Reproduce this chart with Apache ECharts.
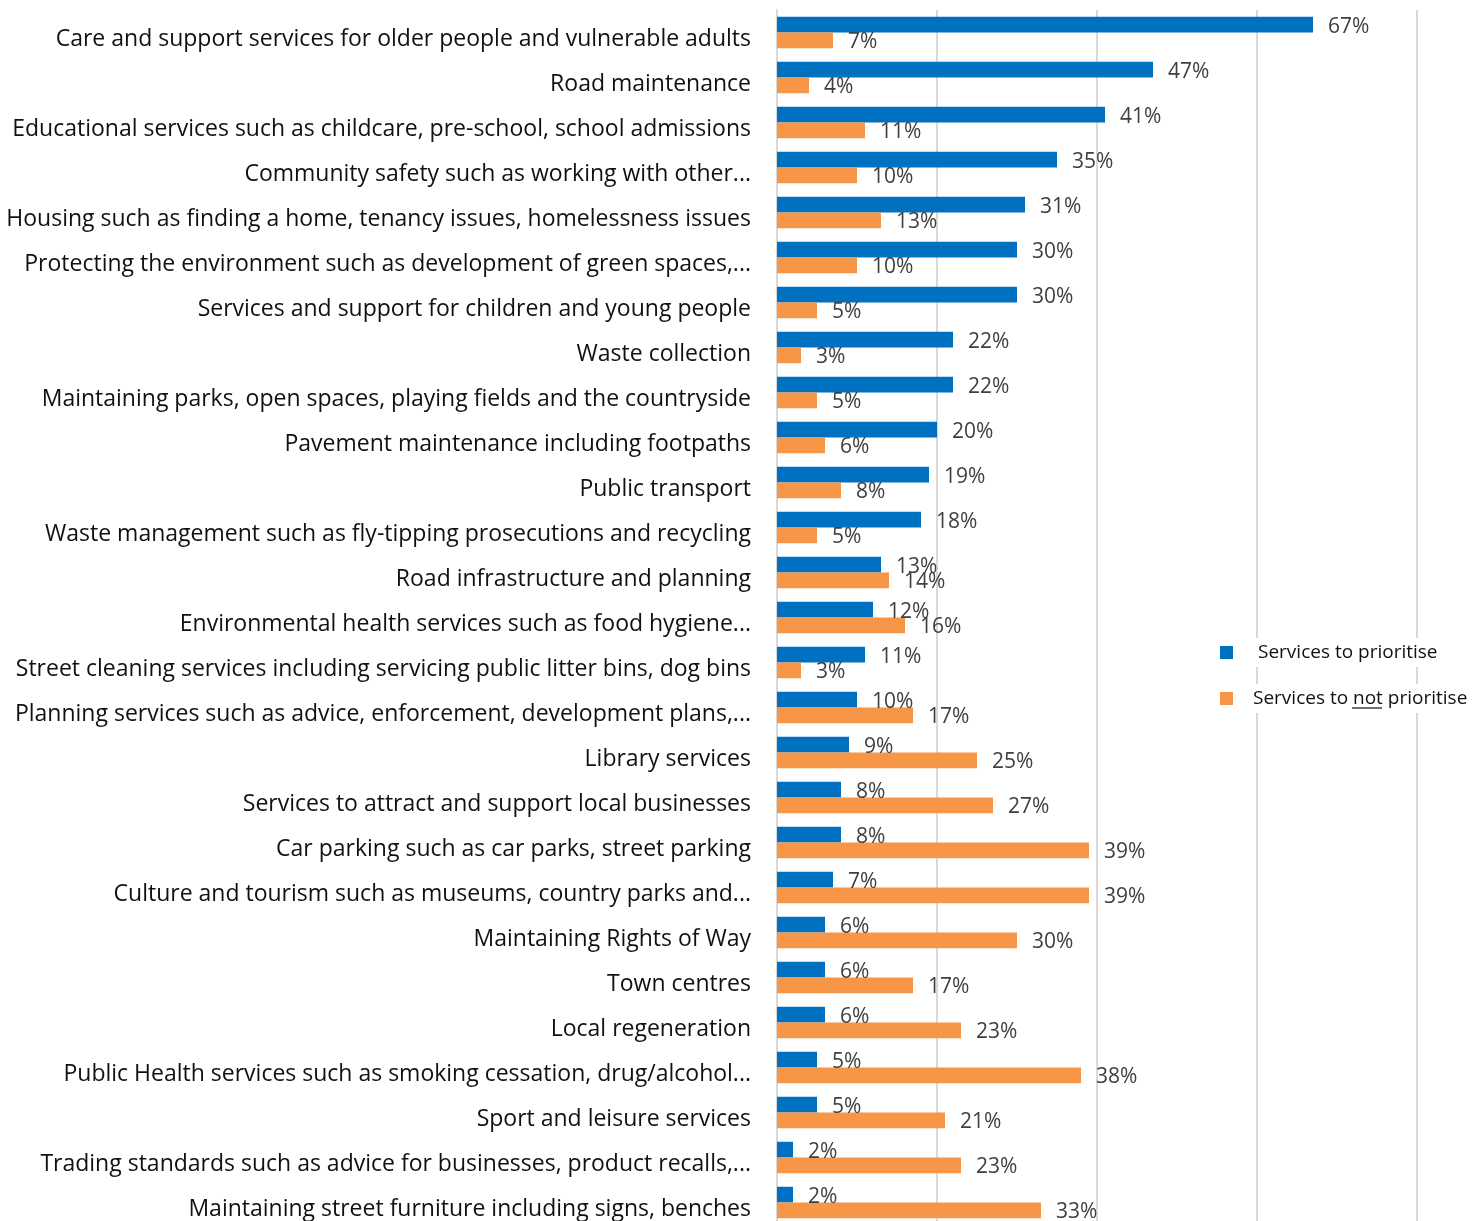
<!DOCTYPE html>
<html>
<head>
<meta charset="utf-8">
<title>Services to prioritise</title>
<script src="https://cdn.jsdelivr.net/npm/echarts@6/dist/echarts.min.js"></script>
<style>
  html, body { margin: 0; padding: 0; background: #fff; overflow: hidden; }
  #chart { width: 1482px; height: 1225px; }
</style>
</head>
<body>
<div id="chart"></div>
<script>
// categories, top to bottom
const services = [
  'Care and support services for older people and vulnerable adults',
  'Road maintenance',
  'Educational services such as childcare, pre-school, school admissions',
  'Community safety such as working with other...',
  'Housing such as finding a home, tenancy issues, homelessness issues',
  'Protecting the environment such as development of green spaces,...',
  'Services and support for children and young people',
  'Waste collection',
  'Maintaining parks, open spaces, playing fields and the countryside',
  'Pavement maintenance including footpaths',
  'Public transport',
  'Waste management such as fly-tipping prosecutions and recycling',
  'Road infrastructure and planning',
  'Environmental health services such as food hygiene...',
  'Street cleaning services including servicing public litter bins, dog bins',
  'Planning services such as advice, enforcement, development plans,...',
  'Library services',
  'Services to attract and support local businesses',
  'Car parking such as car parks, street parking',
  'Culture and tourism such as museums, country parks and...',
  'Maintaining Rights of Way',
  'Town centres',
  'Local regeneration',
  'Public Health services such as smoking cessation, drug/alcohol...',
  'Sport and leisure services',
  'Trading standards such as advice for businesses, product recalls,...',
  'Maintaining street furniture including signs, benches'
];
const prioritise = [67, 47, 41, 35, 31, 30, 30, 22, 22, 20, 19, 18, 13, 12, 11, 10, 9, 8, 8, 7, 6, 6, 6, 5, 5, 2, 2];
const notPrioritise = [7, 4, 11, 10, 13, 10, 5, 3, 5, 6, 8, 5, 14, 16, 3, 17, 25, 27, 39, 39, 30, 17, 23, 38, 21, 23, 33];
const seriesNames = ['Services to prioritise', 'Services to not prioritise'];

const font = '"Open Sans", "Noto Sans", sans-serif';

const chart = echarts.init(document.getElementById('chart'));

const labelStyle = {
  show: true,
  position: 'right',
  distance: 15,
  offset: [0, 2],
  formatter: '{c}%',
  color: '#404040',
  fontSize: 21,
  fontFamily: font
};

chart.setOption({
  animation: false,
  grid: { left: 777, right: 65, top: 10, bottom: 0, containLabel: false },
  xAxis: {
    type: 'value',
    min: 0,
    max: 80,
    interval: 20,
    axisLabel: { show: false },
    axisLine: { show: false },
    axisTick: { show: false },
    splitLine: { lineStyle: { color: '#d9d9d9', width: 2 } }
  },
  yAxis: {
    type: 'category',
    inverse: true,
    data: services,
    axisLine: { show: true, lineStyle: { color: '#d9d9d9', width: 2 } },
    axisTick: { show: false },
    axisLabel: {
      margin: 26,
      formatter: function (v) { return '{a|' + v + '}'; },
      rich: {
        a: { color: '#111', fontSize: 23, fontFamily: font, padding: [14, 0, 0, 0] }
      }
    }
  },
  legend: {
    orient: 'vertical',
    left: 1215,
    top: 633,
    itemWidth: 13,
    itemHeight: 13,
    itemGap: 17,
    icon: 'rect',
    data: [
      { name: seriesNames[0] },
      { name: seriesNames[1], textStyle: { padding: [5, 2, 5, 15] } }
    ],
    textStyle: {
      color: '#111',
      fontSize: 19,
      fontFamily: font,
      backgroundColor: '#fff',
      padding: [5, 2, 5, 20],
      rich: {
        u: { fontSize: 19, fontFamily: font, color: '#111' }
      }
    },
    formatter: function (name) {
      if (name === seriesNames[1]) return 'Services to {u|not} prioritise';
      return name;
    }
  },
  graphic: [{
    type: 'line',
    z: 100,
    shape: { x1: 1352, y1: 708, x2: 1382, y2: 708 },
    style: { stroke: '#111', lineWidth: 1.2 }
  }],
  series: [
    {
      name: seriesNames[0],
      type: 'bar',
      data: prioritise,
      barWidth: '35%',
      barGap: '0%',
      itemStyle: { color: '#0070c0' },
      label: labelStyle
    },
    {
      name: seriesNames[1],
      type: 'bar',
      data: notPrioritise,
      barWidth: '35%',
      itemStyle: { color: '#f79646' },
      label: labelStyle
    }
  ]
});
</script>
</body>
</html>
